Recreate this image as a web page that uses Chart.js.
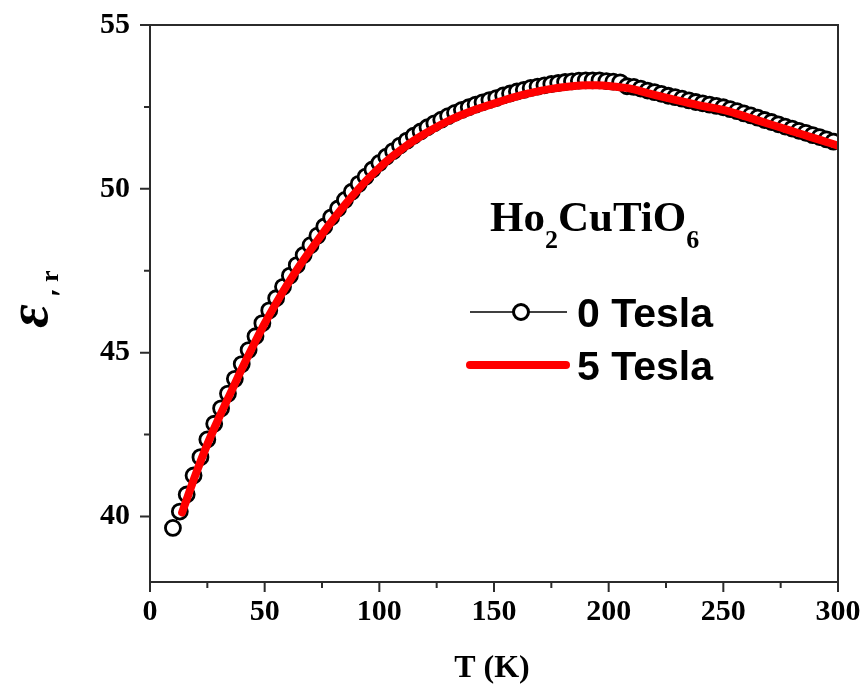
<!DOCTYPE html>
<html>
<head>
<meta charset="utf-8">
<script src="https://cdn.jsdelivr.net/npm/chart.js@4"></script>
<style>
  html, body { margin: 0; padding: 0; background: #fff; }
  #wrap { width: 868px; height: 694px; }
</style>
</head>
<body>
<div id="wrap"><canvas id="chart" width="868" height="694"></canvas></div>
<script>
// 0 Tesla: open circles
const tZero = [10, 13, 16, 19, 22, 25, 28, 31, 34, 37, 40, 43, 46, 49, 52, 55, 58, 61, 64, 67,
    70, 73, 76, 79, 82, 85, 88, 91, 94, 97, 100, 103, 106, 109, 112, 115, 118, 121, 124, 127,
    130, 133, 136, 139, 142, 145, 148, 151, 154, 157, 160, 163, 166, 169, 172, 175, 178, 181, 184, 187,
    190, 193, 196, 199, 202, 205, 208, 211, 214, 217, 220, 223, 226, 229, 232, 235, 238, 241, 244, 247,
    250, 253, 256, 259, 262, 265, 268, 271, 274, 277, 280, 283, 286, 289, 292, 295, 298];
const epsZero = [39.65, 40.15, 40.67, 41.25, 41.81, 42.35, 42.83, 43.3, 43.75, 44.2, 44.65, 45.08, 45.5, 45.9, 46.29, 46.66, 47.01, 47.35, 47.67, 47.98,
    48.28, 48.57, 48.85, 49.13, 49.4, 49.66, 49.91, 50.15, 50.37, 50.59, 50.79, 50.98, 51.15, 51.32, 51.47, 51.62, 51.75, 51.88, 52.0, 52.11,
    52.22, 52.32, 52.41, 52.49, 52.57, 52.64, 52.71, 52.77, 52.85, 52.91, 52.97, 53.02, 53.08, 53.12, 53.16, 53.2, 53.23, 53.26, 53.28, 53.3,
    53.31, 53.31, 53.31, 53.29, 53.27, 53.25, 53.13, 53.11, 53.06, 53.0, 52.95, 52.9, 52.84, 52.8, 52.75, 52.7, 52.65, 52.61, 52.57, 52.53,
    52.49, 52.43, 52.37, 52.3, 52.24, 52.17, 52.1, 52.04, 51.97, 51.9, 51.84, 51.77, 51.71, 51.64, 51.58, 51.51, 51.44];

// 5 Tesla: red line
const tFive = [14, 15, 20, 25, 30, 35, 40, 45, 50, 55, 60, 65, 70, 75, 80, 85, 90, 95, 100, 105,
    110, 115, 120, 125, 130, 135, 140, 145, 150, 155, 160, 165, 170, 175, 180, 185, 190, 195, 200, 205,
    210, 215, 220, 225, 230, 235, 240, 245, 250, 255, 260, 265, 270, 275, 280, 285, 290, 295, 300];
const epsFive = [40.12, 40.32, 41.3, 42.2, 43.0, 43.75, 44.5, 45.21, 45.89, 46.51, 47.09, 47.63, 48.13, 48.61, 49.07, 49.51, 49.92, 50.3, 50.64, 50.95,
    51.22, 51.47, 51.69, 51.89, 52.07, 52.23, 52.37, 52.49, 52.6, 52.72, 52.82, 52.91, 52.99, 53.05, 53.1, 53.14, 53.16, 53.16, 53.14, 53.1,
    53.05, 52.96, 52.87, 52.78, 52.7, 52.62, 52.54, 52.48, 52.41, 52.31, 52.2, 52.09, 51.98, 51.87, 51.76, 51.65, 51.54, 51.43, 51.32];

// 刻度
const xTicks = [0, 50, 100, 150, 200, 250, 300];
const xMinorTicks = [25, 75, 125, 175, 225, 275];
const yTicks = [40, 45, 50, 55];
const yMinorTicks = [42.5, 47.5, 52.5];

const SERIF = '"Liberation Serif", "Times New Roman", serif';
const SANS = '"Liberation Sans", Arial, sans-serif';
const AXIS_COLOR = '#2b2b2b';

// 坐标框、刻度线、标题和图例
const decorPlugin = {
    id: 'decor',
    afterDraw(chart) {
        const ctx = chart.ctx;
        const area = chart.chartArea;
        const xs = chart.scales.x;
        const ys = chart.scales.y;

        ctx.save();
        ctx.strokeStyle = AXIS_COLOR;
        ctx.lineWidth = 2;
        ctx.strokeRect(area.left, area.top, area.right - area.left, area.bottom - area.top);

        ctx.beginPath();
        xTicks.forEach(v => {
            const px = xs.getPixelForValue(v);
            ctx.moveTo(px, area.bottom);
            ctx.lineTo(px, area.bottom + 10);
        });
        xMinorTicks.forEach(v => {
            const px = xs.getPixelForValue(v);
            ctx.moveTo(px, area.bottom);
            ctx.lineTo(px, area.bottom + 6);
        });
        yTicks.forEach(v => {
            const py = ys.getPixelForValue(v);
            ctx.moveTo(area.left, py);
            ctx.lineTo(area.left - 10, py);
        });
        yMinorTicks.forEach(v => {
            const py = ys.getPixelForValue(v);
            ctx.moveTo(area.left, py);
            ctx.lineTo(area.left - 6, py);
        });
        ctx.stroke();

        // x 轴标题
        ctx.fillStyle = '#000';
        ctx.font = 'bold 32px ' + SERIF;
        ctx.textAlign = 'center';
        ctx.textBaseline = 'alphabetic';
        ctx.fillText('T (K)', 492, 677);

        // y 轴标题 ε'r
        ctx.save();
        ctx.translate(47, 328);
        ctx.rotate(-Math.PI / 2);
        ctx.textAlign = 'left';
        ctx.font = 'italic bold 58px ' + SERIF;
        ctx.fillText('ε', 0, 0);
        ctx.font = 'bold 32px ' + SERIF;
        ctx.fillText('′', 31, 26);
        ctx.font = 'bold 26px ' + SERIF;
        ctx.fillText('r', 46, 11);
        ctx.restore();

        // 化学式
        ctx.textAlign = 'left';
        let x = 490;
        const parts = [['Ho', false], ['2', true], ['CuTiO', false], ['6', true]];
        parts.forEach(([txt, sub]) => {
            ctx.font = sub ? 'bold 26px ' + SERIF : 'bold 43px ' + SERIF;
            ctx.fillText(txt, x, sub ? 248 : 231);
            x += ctx.measureText(txt).width;
        });

        // 图例
        ctx.strokeStyle = '#000';
        ctx.lineWidth = 1.5;
        ctx.beginPath();
        ctx.moveTo(470, 312);
        ctx.lineTo(567, 312);
        ctx.stroke();
        ctx.beginPath();
        ctx.arc(521, 312, 7.5, 0, Math.PI * 2);
        ctx.fillStyle = '#fff';
        ctx.fill();
        ctx.lineWidth = 3;
        ctx.stroke();

        ctx.strokeStyle = '#ff0000';
        ctx.lineWidth = 8;
        ctx.lineCap = 'round';
        ctx.beginPath();
        ctx.moveTo(470, 365);
        ctx.lineTo(566, 365);
        ctx.stroke();

        ctx.fillStyle = '#000';
        ctx.font = 'bold 41px ' + SANS;
        ctx.fillText('0 Tesla', 577, 327);
        ctx.fillText('5 Tesla', 577, 380);
        ctx.restore();
    }
};

const ctx = document.getElementById('chart').getContext('2d');
new Chart(ctx, {
    type: 'line',
    data: {
        datasets: [
            {
                label: '5 Tesla',
                data: tFive.map((t, i) => ({ x: t, y: epsFive[i] })),
                borderColor: '#ff0000',
                borderWidth: 8,
                borderCapStyle: 'round',
                pointRadius: 0,
                tension: 0.4,
                order: 0
            },
            {
                label: '0 Tesla',
                data: tZero.map((t, i) => ({ x: t, y: epsZero[i] })),
                borderColor: '#000',
                borderWidth: 1,
                pointStyle: 'circle',
                pointRadius: 7.5,
                pointBorderWidth: 2.8,
                pointBorderColor: '#000',
                pointBackgroundColor: '#fff',
                tension: 0,
                order: 1
            }
        ]
    },
    options: {
        responsive: false,
        animation: false,
        devicePixelRatio: 1,
        layout: { padding: { top: 25, right: 30, left: 0, bottom: 0 } },
        plugins: {
            legend: { display: false },
            tooltip: { enabled: false }
        },
        scales: {
            x: {
                type: 'linear',
                min: 0,
                max: 300,
                grid: { display: false, drawTicks: true, tickLength: 10 },
                border: { display: false },
                ticks: {
                    stepSize: 50,
                    color: '#000',
                    padding: 5,
                    maxRotation: 0,
                    font: { family: SERIF, size: 30, weight: 'bold', lineHeight: 1 }
                },
                afterFit: scale => { scale.height = 112; }
            },
            y: {
                type: 'linear',
                min: 38,
                max: 55,
                grid: { display: false, drawTicks: true, tickLength: 10 },
                border: { display: false },
                afterBuildTicks: scale => { scale.ticks = yTicks.map(v => ({ value: v })); },
                ticks: {
                    color: '#000',
                    padding: 10,
                    font: { family: SERIF, size: 30, weight: 'bold', lineHeight: 1 }
                },
                afterFit: scale => { scale.width = 150; }
            }
        }
    },
    plugins: [decorPlugin]
});
</script>
</body>
</html>
